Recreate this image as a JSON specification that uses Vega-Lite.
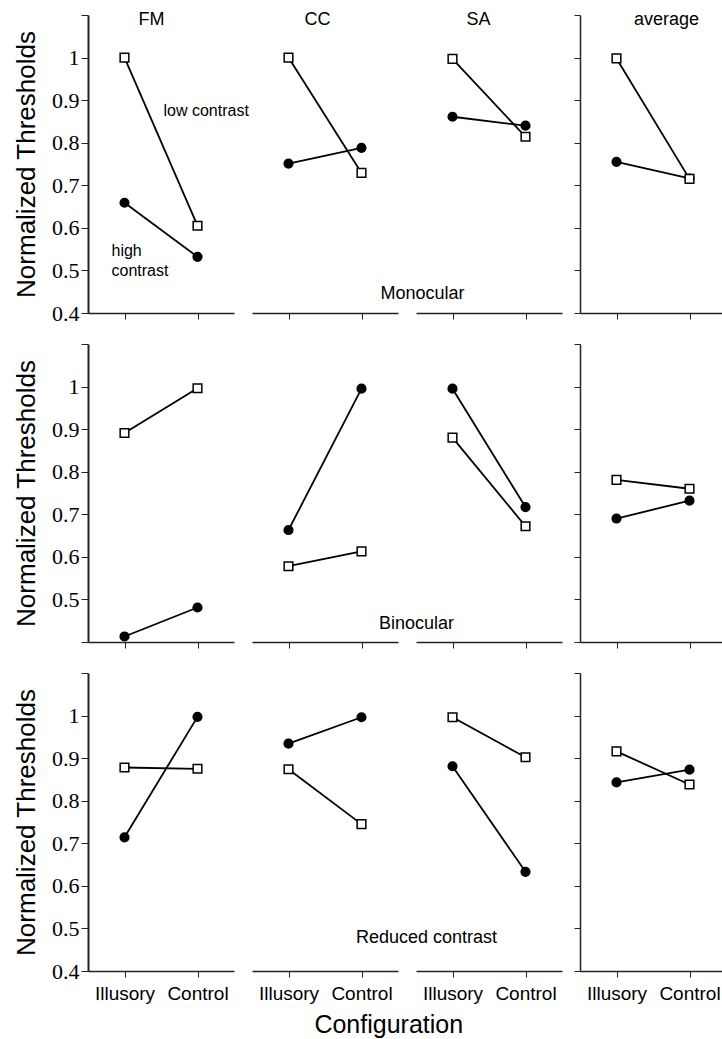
{
  "$schema": "https://vega.github.io/schema/vega-lite/v6.json",
  "padding": {"left": 13, "top": 11, "right": 0, "bottom": 3},
  "datasets": {
    "pts": [
      {"cond": "Mono", "subj": "FM", "contrast": "high", "cfg": "Illusory", "thr": 0.659},
      {"cond": "Mono", "subj": "FM", "contrast": "high", "cfg": "Control", "thr": 0.532},
      {"cond": "Mono", "subj": "FM", "contrast": "low", "cfg": "Illusory", "thr": 1.0},
      {"cond": "Mono", "subj": "FM", "contrast": "low", "cfg": "Control", "thr": 0.605},
      {"cond": "Mono", "subj": "CC", "contrast": "high", "cfg": "Illusory", "thr": 0.751},
      {"cond": "Mono", "subj": "CC", "contrast": "high", "cfg": "Control", "thr": 0.788},
      {"cond": "Mono", "subj": "CC", "contrast": "low", "cfg": "Illusory", "thr": 1.0},
      {"cond": "Mono", "subj": "CC", "contrast": "low", "cfg": "Control", "thr": 0.729},
      {"cond": "Mono", "subj": "SA", "contrast": "high", "cfg": "Illusory", "thr": 0.861},
      {"cond": "Mono", "subj": "SA", "contrast": "high", "cfg": "Control", "thr": 0.84},
      {"cond": "Mono", "subj": "SA", "contrast": "low", "cfg": "Illusory", "thr": 0.997},
      {"cond": "Mono", "subj": "SA", "contrast": "low", "cfg": "Control", "thr": 0.814},
      {"cond": "Mono", "subj": "avg", "contrast": "high", "cfg": "Illusory", "thr": 0.755},
      {"cond": "Mono", "subj": "avg", "contrast": "high", "cfg": "Control", "thr": 0.716},
      {"cond": "Mono", "subj": "avg", "contrast": "low", "cfg": "Illusory", "thr": 0.998},
      {"cond": "Mono", "subj": "avg", "contrast": "low", "cfg": "Control", "thr": 0.715},
      {"cond": "Bino", "subj": "FM", "contrast": "high", "cfg": "Illusory", "thr": 0.413},
      {"cond": "Bino", "subj": "FM", "contrast": "high", "cfg": "Control", "thr": 0.481},
      {"cond": "Bino", "subj": "FM", "contrast": "low", "cfg": "Illusory", "thr": 0.891},
      {"cond": "Bino", "subj": "FM", "contrast": "low", "cfg": "Control", "thr": 0.996},
      {"cond": "Bino", "subj": "CC", "contrast": "high", "cfg": "Illusory", "thr": 0.663},
      {"cond": "Bino", "subj": "CC", "contrast": "high", "cfg": "Control", "thr": 0.995},
      {"cond": "Bino", "subj": "CC", "contrast": "low", "cfg": "Illusory", "thr": 0.578},
      {"cond": "Bino", "subj": "CC", "contrast": "low", "cfg": "Control", "thr": 0.613},
      {"cond": "Bino", "subj": "SA", "contrast": "high", "cfg": "Illusory", "thr": 0.995},
      {"cond": "Bino", "subj": "SA", "contrast": "high", "cfg": "Control", "thr": 0.717},
      {"cond": "Bino", "subj": "SA", "contrast": "low", "cfg": "Illusory", "thr": 0.88},
      {"cond": "Bino", "subj": "SA", "contrast": "low", "cfg": "Control", "thr": 0.672},
      {"cond": "Bino", "subj": "avg", "contrast": "high", "cfg": "Illusory", "thr": 0.69},
      {"cond": "Bino", "subj": "avg", "contrast": "high", "cfg": "Control", "thr": 0.732},
      {"cond": "Bino", "subj": "avg", "contrast": "low", "cfg": "Illusory", "thr": 0.781},
      {"cond": "Bino", "subj": "avg", "contrast": "low", "cfg": "Control", "thr": 0.76},
      {"cond": "Red", "subj": "FM", "contrast": "high", "cfg": "Illusory", "thr": 0.714},
      {"cond": "Red", "subj": "FM", "contrast": "high", "cfg": "Control", "thr": 0.997},
      {"cond": "Red", "subj": "FM", "contrast": "low", "cfg": "Illusory", "thr": 0.878},
      {"cond": "Red", "subj": "FM", "contrast": "low", "cfg": "Control", "thr": 0.875},
      {"cond": "Red", "subj": "CC", "contrast": "high", "cfg": "Illusory", "thr": 0.934},
      {"cond": "Red", "subj": "CC", "contrast": "high", "cfg": "Control", "thr": 0.996},
      {"cond": "Red", "subj": "CC", "contrast": "low", "cfg": "Illusory", "thr": 0.874},
      {"cond": "Red", "subj": "CC", "contrast": "low", "cfg": "Control", "thr": 0.745},
      {"cond": "Red", "subj": "SA", "contrast": "high", "cfg": "Illusory", "thr": 0.881},
      {"cond": "Red", "subj": "SA", "contrast": "high", "cfg": "Control", "thr": 0.633},
      {"cond": "Red", "subj": "SA", "contrast": "low", "cfg": "Illusory", "thr": 0.996},
      {"cond": "Red", "subj": "SA", "contrast": "low", "cfg": "Control", "thr": 0.902},
      {"cond": "Red", "subj": "avg", "contrast": "high", "cfg": "Illusory", "thr": 0.843},
      {"cond": "Red", "subj": "avg", "contrast": "high", "cfg": "Control", "thr": 0.873},
      {"cond": "Red", "subj": "avg", "contrast": "low", "cfg": "Illusory", "thr": 0.916},
      {"cond": "Red", "subj": "avg", "contrast": "low", "cfg": "Control", "thr": 0.838}
    ],
    "notes": [
      {"note": "FM", "cfg": "Illusory", "thr": 1.088},
      {"note": "CC", "cfg": "Illusory", "thr": 1.088},
      {"note": "SA", "cfg": "Illusory", "thr": 1.088},
      {"note": "average", "cfg": "Illusory", "thr": 1.088},
      {"note": "low contrast", "cfg": "Illusory", "thr": 0.875},
      {"note": "high\ncontrast", "cfg": "Illusory", "thr": 0.545},
      {"note": "Monocular", "cfg": "Illusory", "thr": 0.445},
      {"note": "Binocular", "cfg": "Illusory", "thr": 0.443},
      {"note": "Reduced contrast", "cfg": "Illusory", "thr": 0.477}
    ]
  },
  "config": {
    "view": {"stroke": null},
    "font": "Liberation Sans",
    "axis": {"grid": false, "domainColor": "#222", "tickColor": "#222", "labelColor": "#000", "titleColor": "#000", "labelFont": "Liberation Serif", "titleFont": "Liberation Sans", "titleFontWeight": "normal"}
  },
  "title": {"text": "Configuration", "orient": "bottom", "anchor": "middle", "fontSize": 25, "font": "Liberation Sans", "fontWeight": "normal", "offset": 10, "dx": 19, "color": "#000"},
  "bounds": "flush",
  "columns": 4,
  "spacing": {"row": 31, "column": 18},
  "concat": [
    {
      "width": 146, "height": 298,
      "encoding": {
        "x": {"field": "cfg", "type": "nominal", "sort": ["Illusory", "Control"], "scale": {"type": "point", "padding": 0.5}, "axis": {"labels": false, "title": null, "tickSize": 6, "domainWidth": 1.5}},
        "y": {"field": "thr", "type": "quantitative", "scale": {"domain": [0.4, 1.1], "nice": false, "zero": false}, "axis": {"values": [0.4, 0.5, 0.6, 0.7, 0.8, 0.9, 1, 1.1], "labelExpr": "datum.value > 1.05 ? '' : format(datum.value, '.1~f')", "title": "Normalized Thresholds", "titleFontSize": 26, "titlePadding": 12, "labelFontSize": 22, "tickSize": 7, "labelPadding": 2, "domainWidth": 2}}
      },
      "layer": [
        {"data": {"name": "pts"}, "transform": [{"filter": "datum.cond === 'Mono' && datum.subj === 'FM'"}], "mark": {"type": "line", "color": "black", "strokeWidth": 1.8}, "encoding": {"detail": {"field": "contrast"}}},
        {"data": {"name": "pts"}, "transform": [{"filter": "datum.cond === 'Mono' && datum.subj === 'FM'"}], "mark": {"type": "point", "filled": true, "opacity": 1, "stroke": "black", "strokeWidth": 1.5, "size": 75}, "encoding": {"shape": {"field": "contrast", "type": "nominal", "scale": {"domain": ["high", "low"], "range": ["circle", "square"]}, "legend": null}, "fill": {"field": "contrast", "type": "nominal", "scale": {"domain": ["high", "low"], "range": ["black", "white"]}, "legend": null}}},
        {"data": {"name": "notes"}, "transform": [{"filter": "datum.note === 'FM'"}], "mark": {"type": "text", "align": "center", "baseline": "middle", "dx": 27, "fontSize": 18, "color": "black"}, "encoding": {"text": {"field": "note"}}},
        {"data": {"name": "notes"}, "transform": [{"filter": "datum.note === 'low contrast'"}], "mark": {"type": "text", "align": "left", "baseline": "middle", "dx": 39, "fontSize": 16, "color": "black"}, "encoding": {"text": {"field": "note"}}},
        {"data": {"name": "notes"}, "transform": [{"filter": "datum.note === 'high\\ncontrast'"}], "mark": {"type": "text", "align": "left", "baseline": "middle", "dx": -13, "fontSize": 16, "lineBreak": "\n", "lineHeight": 20, "color": "black"}, "encoding": {"text": {"field": "note"}}}
      ]
    },
    {
      "width": 146, "height": 298,
      "encoding": {
        "x": {"field": "cfg", "type": "nominal", "sort": ["Illusory", "Control"], "scale": {"type": "point", "padding": 0.5}, "axis": {"labels": false, "title": null, "tickSize": 6, "domainWidth": 1.5}},
        "y": {"field": "thr", "type": "quantitative", "scale": {"domain": [0.4, 1.1], "nice": false, "zero": false}, "axis": null}
      },
      "layer": [
        {"data": {"name": "pts"}, "transform": [{"filter": "datum.cond === 'Mono' && datum.subj === 'CC'"}], "mark": {"type": "line", "color": "black", "strokeWidth": 1.8}, "encoding": {"detail": {"field": "contrast"}}},
        {"data": {"name": "pts"}, "transform": [{"filter": "datum.cond === 'Mono' && datum.subj === 'CC'"}], "mark": {"type": "point", "filled": true, "opacity": 1, "stroke": "black", "strokeWidth": 1.5, "size": 75}, "encoding": {"shape": {"field": "contrast", "type": "nominal", "scale": {"domain": ["high", "low"], "range": ["circle", "square"]}, "legend": null}, "fill": {"field": "contrast", "type": "nominal", "scale": {"domain": ["high", "low"], "range": ["black", "white"]}, "legend": null}}},
        {"data": {"name": "notes"}, "transform": [{"filter": "datum.note === 'CC'"}], "mark": {"type": "text", "align": "center", "baseline": "middle", "dx": 29, "fontSize": 18, "color": "black"}, "encoding": {"text": {"field": "note"}}}
      ]
    },
    {
      "width": 146, "height": 298,
      "encoding": {
        "x": {"field": "cfg", "type": "nominal", "sort": ["Illusory", "Control"], "scale": {"type": "point", "padding": 0.5}, "axis": {"labels": false, "title": null, "tickSize": 6, "domainWidth": 1.5}},
        "y": {"field": "thr", "type": "quantitative", "scale": {"domain": [0.4, 1.1], "nice": false, "zero": false}, "axis": null}
      },
      "layer": [
        {"data": {"name": "pts"}, "transform": [{"filter": "datum.cond === 'Mono' && datum.subj === 'SA'"}], "mark": {"type": "line", "color": "black", "strokeWidth": 1.8}, "encoding": {"detail": {"field": "contrast"}}},
        {"data": {"name": "pts"}, "transform": [{"filter": "datum.cond === 'Mono' && datum.subj === 'SA'"}], "mark": {"type": "point", "filled": true, "opacity": 1, "stroke": "black", "strokeWidth": 1.5, "size": 75}, "encoding": {"shape": {"field": "contrast", "type": "nominal", "scale": {"domain": ["high", "low"], "range": ["circle", "square"]}, "legend": null}, "fill": {"field": "contrast", "type": "nominal", "scale": {"domain": ["high", "low"], "range": ["black", "white"]}, "legend": null}}},
        {"data": {"name": "notes"}, "transform": [{"filter": "datum.note === 'SA'"}], "mark": {"type": "text", "align": "center", "baseline": "middle", "dx": 26, "fontSize": 18, "color": "black"}, "encoding": {"text": {"field": "note"}}},
        {"data": {"name": "notes"}, "transform": [{"filter": "datum.note === 'Monocular'"}], "mark": {"type": "text", "align": "center", "baseline": "middle", "dx": -30, "fontSize": 18, "color": "black"}, "encoding": {"text": {"field": "note"}}}
      ]
    },
    {
      "width": 146, "height": 298,
      "encoding": {
        "x": {"field": "cfg", "type": "nominal", "sort": ["Illusory", "Control"], "scale": {"type": "point", "padding": 0.5}, "axis": {"labels": false, "title": null, "tickSize": 6, "domainWidth": 1.5}},
        "y": {"field": "thr", "type": "quantitative", "scale": {"domain": [0.4, 1.1], "nice": false, "zero": false}, "axis": {"values": [0.4, 0.5, 0.6, 0.7, 0.8, 0.9, 1, 1.1], "labels": false, "title": null, "tickSize": 6, "domainWidth": 1.5}}
      },
      "layer": [
        {"data": {"name": "pts"}, "transform": [{"filter": "datum.cond === 'Mono' && datum.subj === 'avg'"}], "mark": {"type": "line", "color": "black", "strokeWidth": 1.8}, "encoding": {"detail": {"field": "contrast"}}},
        {"data": {"name": "pts"}, "transform": [{"filter": "datum.cond === 'Mono' && datum.subj === 'avg'"}], "mark": {"type": "point", "filled": true, "opacity": 1, "stroke": "black", "strokeWidth": 1.5, "size": 75}, "encoding": {"shape": {"field": "contrast", "type": "nominal", "scale": {"domain": ["high", "low"], "range": ["circle", "square"]}, "legend": null}, "fill": {"field": "contrast", "type": "nominal", "scale": {"domain": ["high", "low"], "range": ["black", "white"]}, "legend": null}}},
        {"data": {"name": "notes"}, "transform": [{"filter": "datum.note === 'average'"}], "mark": {"type": "text", "align": "center", "baseline": "middle", "dx": 50, "fontSize": 18, "color": "black"}, "encoding": {"text": {"field": "note"}}}
      ]
    },
    {
      "width": 146, "height": 298,
      "encoding": {
        "x": {"field": "cfg", "type": "nominal", "sort": ["Illusory", "Control"], "scale": {"type": "point", "padding": 0.5}, "axis": {"labels": false, "title": null, "tickSize": 6, "domainWidth": 1.5}},
        "y": {"field": "thr", "type": "quantitative", "scale": {"domain": [0.4, 1.1], "nice": false, "zero": false}, "axis": {"values": [0.4, 0.5, 0.6, 0.7, 0.8, 0.9, 1, 1.1], "labelExpr": "(datum.value > 1.05 || datum.value < 0.45) ? '' : format(datum.value, '.1~f')", "title": "Normalized Thresholds", "titleFontSize": 26, "titlePadding": 12, "labelFontSize": 22, "tickSize": 7, "labelPadding": 2, "domainWidth": 2}}
      },
      "layer": [
        {"data": {"name": "pts"}, "transform": [{"filter": "datum.cond === 'Bino' && datum.subj === 'FM'"}], "mark": {"type": "line", "color": "black", "strokeWidth": 1.8}, "encoding": {"detail": {"field": "contrast"}}},
        {"data": {"name": "pts"}, "transform": [{"filter": "datum.cond === 'Bino' && datum.subj === 'FM'"}], "mark": {"type": "point", "filled": true, "opacity": 1, "stroke": "black", "strokeWidth": 1.5, "size": 75}, "encoding": {"shape": {"field": "contrast", "type": "nominal", "scale": {"domain": ["high", "low"], "range": ["circle", "square"]}, "legend": null}, "fill": {"field": "contrast", "type": "nominal", "scale": {"domain": ["high", "low"], "range": ["black", "white"]}, "legend": null}}}
      ]
    },
    {
      "width": 146, "height": 298,
      "encoding": {
        "x": {"field": "cfg", "type": "nominal", "sort": ["Illusory", "Control"], "scale": {"type": "point", "padding": 0.5}, "axis": {"labels": false, "title": null, "tickSize": 6, "domainWidth": 1.5}},
        "y": {"field": "thr", "type": "quantitative", "scale": {"domain": [0.4, 1.1], "nice": false, "zero": false}, "axis": null}
      },
      "layer": [
        {"data": {"name": "pts"}, "transform": [{"filter": "datum.cond === 'Bino' && datum.subj === 'CC'"}], "mark": {"type": "line", "color": "black", "strokeWidth": 1.8}, "encoding": {"detail": {"field": "contrast"}}},
        {"data": {"name": "pts"}, "transform": [{"filter": "datum.cond === 'Bino' && datum.subj === 'CC'"}], "mark": {"type": "point", "filled": true, "opacity": 1, "stroke": "black", "strokeWidth": 1.5, "size": 75}, "encoding": {"shape": {"field": "contrast", "type": "nominal", "scale": {"domain": ["high", "low"], "range": ["circle", "square"]}, "legend": null}, "fill": {"field": "contrast", "type": "nominal", "scale": {"domain": ["high", "low"], "range": ["black", "white"]}, "legend": null}}}
      ]
    },
    {
      "width": 146, "height": 298,
      "encoding": {
        "x": {"field": "cfg", "type": "nominal", "sort": ["Illusory", "Control"], "scale": {"type": "point", "padding": 0.5}, "axis": {"labels": false, "title": null, "tickSize": 6, "domainWidth": 1.5}},
        "y": {"field": "thr", "type": "quantitative", "scale": {"domain": [0.4, 1.1], "nice": false, "zero": false}, "axis": null}
      },
      "layer": [
        {"data": {"name": "pts"}, "transform": [{"filter": "datum.cond === 'Bino' && datum.subj === 'SA'"}], "mark": {"type": "line", "color": "black", "strokeWidth": 1.8}, "encoding": {"detail": {"field": "contrast"}}},
        {"data": {"name": "pts"}, "transform": [{"filter": "datum.cond === 'Bino' && datum.subj === 'SA'"}], "mark": {"type": "point", "filled": true, "opacity": 1, "stroke": "black", "strokeWidth": 1.5, "size": 75}, "encoding": {"shape": {"field": "contrast", "type": "nominal", "scale": {"domain": ["high", "low"], "range": ["circle", "square"]}, "legend": null}, "fill": {"field": "contrast", "type": "nominal", "scale": {"domain": ["high", "low"], "range": ["black", "white"]}, "legend": null}}},
        {"data": {"name": "notes"}, "transform": [{"filter": "datum.note === 'Binocular'"}], "mark": {"type": "text", "align": "center", "baseline": "middle", "dx": -36, "fontSize": 18, "color": "black"}, "encoding": {"text": {"field": "note"}}}
      ]
    },
    {
      "width": 146, "height": 298,
      "encoding": {
        "x": {"field": "cfg", "type": "nominal", "sort": ["Illusory", "Control"], "scale": {"type": "point", "padding": 0.5}, "axis": {"labels": false, "title": null, "tickSize": 6, "domainWidth": 1.5}},
        "y": {"field": "thr", "type": "quantitative", "scale": {"domain": [0.4, 1.1], "nice": false, "zero": false}, "axis": {"values": [0.4, 0.5, 0.6, 0.7, 0.8, 0.9, 1, 1.1], "labels": false, "title": null, "tickSize": 6, "domainWidth": 1.5}}
      },
      "layer": [
        {"data": {"name": "pts"}, "transform": [{"filter": "datum.cond === 'Bino' && datum.subj === 'avg'"}], "mark": {"type": "line", "color": "black", "strokeWidth": 1.8}, "encoding": {"detail": {"field": "contrast"}}},
        {"data": {"name": "pts"}, "transform": [{"filter": "datum.cond === 'Bino' && datum.subj === 'avg'"}], "mark": {"type": "point", "filled": true, "opacity": 1, "stroke": "black", "strokeWidth": 1.5, "size": 75}, "encoding": {"shape": {"field": "contrast", "type": "nominal", "scale": {"domain": ["high", "low"], "range": ["circle", "square"]}, "legend": null}, "fill": {"field": "contrast", "type": "nominal", "scale": {"domain": ["high", "low"], "range": ["black", "white"]}, "legend": null}}}
      ]
    },
    {
      "width": 146, "height": 298,
      "encoding": {
        "x": {"field": "cfg", "type": "nominal", "sort": ["Illusory", "Control"], "scale": {"type": "point", "padding": 0.5}, "axis": {"title": null, "labelAngle": 0, "labelFont": "Liberation Sans", "labelFontSize": 19, "tickSize": 6, "labelPadding": 7, "domainWidth": 1.5}},
        "y": {"field": "thr", "type": "quantitative", "scale": {"domain": [0.4, 1.1], "nice": false, "zero": false}, "axis": {"values": [0.4, 0.5, 0.6, 0.7, 0.8, 0.9, 1, 1.1], "labelExpr": "datum.value > 1.05 ? '' : format(datum.value, '.1~f')", "title": "Normalized Thresholds", "titleFontSize": 26, "titlePadding": 12, "labelFontSize": 22, "tickSize": 7, "labelPadding": 2, "domainWidth": 2}}
      },
      "layer": [
        {"data": {"name": "pts"}, "transform": [{"filter": "datum.cond === 'Red' && datum.subj === 'FM'"}], "mark": {"type": "line", "color": "black", "strokeWidth": 1.8}, "encoding": {"detail": {"field": "contrast"}}},
        {"data": {"name": "pts"}, "transform": [{"filter": "datum.cond === 'Red' && datum.subj === 'FM'"}], "mark": {"type": "point", "filled": true, "opacity": 1, "stroke": "black", "strokeWidth": 1.5, "size": 75}, "encoding": {"shape": {"field": "contrast", "type": "nominal", "scale": {"domain": ["high", "low"], "range": ["circle", "square"]}, "legend": null}, "fill": {"field": "contrast", "type": "nominal", "scale": {"domain": ["high", "low"], "range": ["black", "white"]}, "legend": null}}}
      ]
    },
    {
      "width": 146, "height": 298,
      "encoding": {
        "x": {"field": "cfg", "type": "nominal", "sort": ["Illusory", "Control"], "scale": {"type": "point", "padding": 0.5}, "axis": {"title": null, "labelAngle": 0, "labelFont": "Liberation Sans", "labelFontSize": 19, "tickSize": 6, "labelPadding": 7, "domainWidth": 1.5}},
        "y": {"field": "thr", "type": "quantitative", "scale": {"domain": [0.4, 1.1], "nice": false, "zero": false}, "axis": null}
      },
      "layer": [
        {"data": {"name": "pts"}, "transform": [{"filter": "datum.cond === 'Red' && datum.subj === 'CC'"}], "mark": {"type": "line", "color": "black", "strokeWidth": 1.8}, "encoding": {"detail": {"field": "contrast"}}},
        {"data": {"name": "pts"}, "transform": [{"filter": "datum.cond === 'Red' && datum.subj === 'CC'"}], "mark": {"type": "point", "filled": true, "opacity": 1, "stroke": "black", "strokeWidth": 1.5, "size": 75}, "encoding": {"shape": {"field": "contrast", "type": "nominal", "scale": {"domain": ["high", "low"], "range": ["circle", "square"]}, "legend": null}, "fill": {"field": "contrast", "type": "nominal", "scale": {"domain": ["high", "low"], "range": ["black", "white"]}, "legend": null}}}
      ]
    },
    {
      "width": 146, "height": 298,
      "encoding": {
        "x": {"field": "cfg", "type": "nominal", "sort": ["Illusory", "Control"], "scale": {"type": "point", "padding": 0.5}, "axis": {"title": null, "labelAngle": 0, "labelFont": "Liberation Sans", "labelFontSize": 19, "tickSize": 6, "labelPadding": 7, "domainWidth": 1.5}},
        "y": {"field": "thr", "type": "quantitative", "scale": {"domain": [0.4, 1.1], "nice": false, "zero": false}, "axis": null}
      },
      "layer": [
        {"data": {"name": "pts"}, "transform": [{"filter": "datum.cond === 'Red' && datum.subj === 'SA'"}], "mark": {"type": "line", "color": "black", "strokeWidth": 1.8}, "encoding": {"detail": {"field": "contrast"}}},
        {"data": {"name": "pts"}, "transform": [{"filter": "datum.cond === 'Red' && datum.subj === 'SA'"}], "mark": {"type": "point", "filled": true, "opacity": 1, "stroke": "black", "strokeWidth": 1.5, "size": 75}, "encoding": {"shape": {"field": "contrast", "type": "nominal", "scale": {"domain": ["high", "low"], "range": ["circle", "square"]}, "legend": null}, "fill": {"field": "contrast", "type": "nominal", "scale": {"domain": ["high", "low"], "range": ["black", "white"]}, "legend": null}}},
        {"data": {"name": "notes"}, "transform": [{"filter": "datum.note === 'Reduced contrast'"}], "mark": {"type": "text", "align": "center", "baseline": "middle", "dx": -26, "fontSize": 18, "color": "black"}, "encoding": {"text": {"field": "note"}}}
      ]
    },
    {
      "width": 146, "height": 298,
      "encoding": {
        "x": {"field": "cfg", "type": "nominal", "sort": ["Illusory", "Control"], "scale": {"type": "point", "padding": 0.5}, "axis": {"title": null, "labelAngle": 0, "labelFont": "Liberation Sans", "labelFontSize": 19, "tickSize": 6, "labelPadding": 7, "domainWidth": 1.5}},
        "y": {"field": "thr", "type": "quantitative", "scale": {"domain": [0.4, 1.1], "nice": false, "zero": false}, "axis": {"values": [0.4, 0.5, 0.6, 0.7, 0.8, 0.9, 1, 1.1], "labels": false, "title": null, "tickSize": 6, "domainWidth": 1.5}}
      },
      "layer": [
        {"data": {"name": "pts"}, "transform": [{"filter": "datum.cond === 'Red' && datum.subj === 'avg'"}], "mark": {"type": "line", "color": "black", "strokeWidth": 1.8}, "encoding": {"detail": {"field": "contrast"}}},
        {"data": {"name": "pts"}, "transform": [{"filter": "datum.cond === 'Red' && datum.subj === 'avg'"}], "mark": {"type": "point", "filled": true, "opacity": 1, "stroke": "black", "strokeWidth": 1.5, "size": 75}, "encoding": {"shape": {"field": "contrast", "type": "nominal", "scale": {"domain": ["high", "low"], "range": ["circle", "square"]}, "legend": null}, "fill": {"field": "contrast", "type": "nominal", "scale": {"domain": ["high", "low"], "range": ["black", "white"]}, "legend": null}}}
      ]
    }
  ]
}
